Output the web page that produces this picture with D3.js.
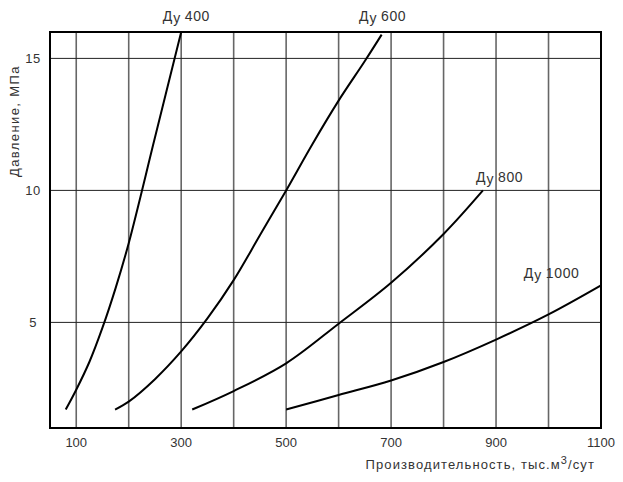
<!DOCTYPE html>
<html><head><meta charset="utf-8">
<script src="https://cdn.jsdelivr.net/npm/d3@7"></script>
<style>body{margin:0;background:#fff}svg{display:block}text{font-family:"Liberation Sans",Arial,sans-serif;fill:#333}</style>
</head><body><svg id="c" width="623" height="482"></svg>
<script>
const xGrid = [100,200,300,400,500,600,700,800,900,1000];
const xTickLabels = [100,300,500,700,900,1100];
const yTickLabels = [5,10,15];
const seriesNames = ["Ду 400","Ду 600","Ду 800","Ду 1000"];
const dn400x = [80,100,125,150,175,200,250,300];
const dn400p = [1.7,2.45,3.5,4.8,6.3,8.0,12.0,16];
const dn600x = [174,200,250,300,350,400,450,500,550,600,650,682];
const dn600p = [1.7,2.0,2.85,3.9,5.15,6.6,8.3,10,11.75,13.4,14.9,15.9];
const dn800x = [321,400,500,600,700,800,875];
const dn800p = [1.7,2.4,3.45,4.95,6.5,8.35,10];
const dn1000x = [500,600,700,800,900,1000,1100];
const dn1000p = [1.7,2.25,2.8,3.5,4.35,5.3,6.4];
const labelX = [265,639,862,953];
const labelP = [16.4,16.4,10.3,6.7];

const svg = d3.select("#c");
const L=50,R=601,T=32,B=428;
const x = d3.scaleLinear().domain([50,1100]).range([L,R]);
const y = d3.scaleLinear().domain([1,16]).range([B,T]);

svg.append("g").selectAll("line").data(xGrid).join("line")
  .attr("x1",d=>x(d)).attr("x2",d=>x(d)).attr("y1",T).attr("y2",B)
  .attr("stroke","#666").attr("stroke-width",1.6);
svg.append("g").selectAll("line").data(yTickLabels).join("line")
  .attr("x1",L).attr("x2",R).attr("y1",d=>y(d)).attr("y2",d=>y(d))
  .attr("stroke","#222").attr("stroke-width",1);
svg.append("rect").attr("x",L).attr("y",T).attr("width",R-L).attr("height",B-T)
  .attr("fill","none").attr("stroke","#000").attr("stroke-width",2);

const series = [[dn400x,dn400p],[dn600x,dn600p],[dn800x,dn800p],[dn1000x,dn1000p]];
const line = d3.line().x(d=>x(d[0])).y(d=>y(d[1])).curve(d3.curveCatmullRom.alpha(0.5));
series.forEach(([xs,ps])=>{
  svg.append("path").datum(xs.map((v,i)=>[v,ps[i]]))
    .attr("d",line).attr("fill","none").attr("stroke","#000").attr("stroke-width",2);
});

seriesNames.forEach((n,i)=>{
  const parts = n.split(" ");
  const t = svg.append("text").attr("x",x(labelX[i])).attr("y",y(labelP[i]))
    .attr("font-size",14).attr("letter-spacing",0.6);
  t.append("tspan").text("Д");
  t.append("tspan").attr("dy",2).text("у");
  t.append("tspan").attr("dy",-2).attr("dx",4).text(parts[1]);
});

svg.append("g").selectAll("text").data(xTickLabels).join("text")
  .attr("x",d=>x(d)).attr("y",447).attr("text-anchor","middle").attr("font-size",13).text(d=>d);
svg.append("g").selectAll("text").data(yTickLabels).join("text")
  .attr("x",33).attr("y",d=>y(d)+5).attr("text-anchor","middle").attr("font-size",13)
  .attr("letter-spacing",0.5).text(d=>d);

const xt = svg.append("text").attr("x",595).attr("y",469).attr("text-anchor","end")
  .attr("font-size",13).attr("letter-spacing",1.1);
xt.append("tspan").text("Производительность, тыс.м");
xt.append("tspan").attr("dy",-5).attr("font-size",11).text("3");
xt.append("tspan").attr("dy",5).text("/сут");
svg.append("text").attr("transform","translate(19,121) rotate(-90)").attr("text-anchor","middle")
  .attr("font-size",13).attr("letter-spacing",1.4).text("Давление, МПа");
</script></body></html>
